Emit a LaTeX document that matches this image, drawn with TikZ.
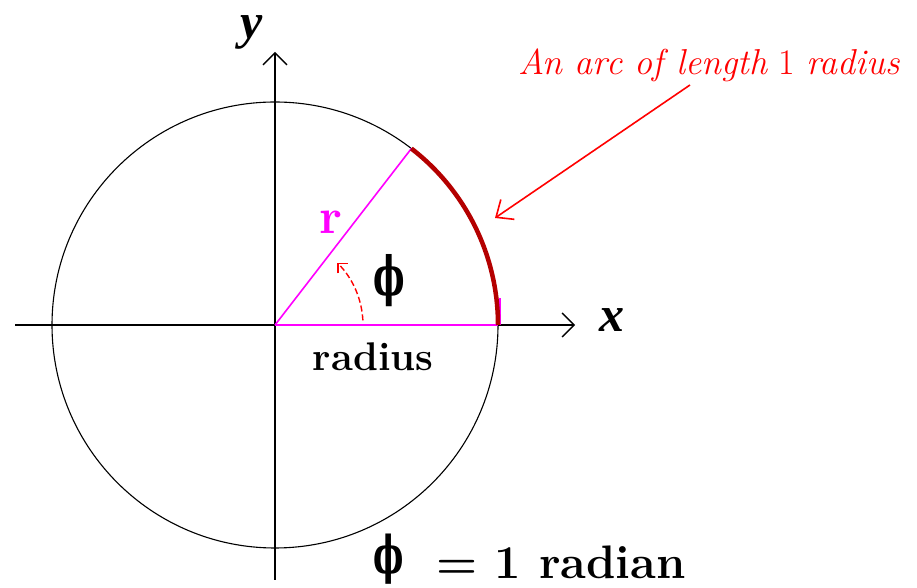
\documentclass[tikz,border=0pt]{standalone}
\usepackage{fontspec}
\newfontfamily\timesfont{Liberation Serif}
\newfontfamily\dvfont{DejaVu Serif}
\usetikzlibrary{arrows.meta}
\definecolor{arcred}{RGB}{180,0,0}
\definecolor{mag}{RGB}{255,0,255}
\tikzset{
  axis/.style={line width=1.6pt,-{Straight Barb[length=12pt,width=24pt,line width=1.4pt]}},
  pointer/.style={red,line width=1.6pt,-{Straight Barb[length=14pt,width=24pt,line width=1.6pt]}},
  lbl/.style={inner sep=0pt},
  philbl/.style={inner sep=0pt,xscale=0.62}
}
\begin{document}
\begin{tikzpicture}[x=1pt,y=1pt]
\useasboundingbox (0,0) rectangle (917,588);
\coordinate (C) at (275,263);
\coordinate (P) at ({275+223*cos(52.3)},{263+223*sin(52.3)});
\coordinate (Q) at (498,263);
\coordinate (xs) at (15,263);
\coordinate (xe) at (575,263);
\coordinate (ys) at (275,8);
\coordinate (ye) at (275,536);
% circle
\draw[line width=1.1pt] (C) circle (223);
% axes
\draw[axis] (xs) -- (xe);
\draw[axis] (ys) -- (ye);
% radius lines
\draw[mag,line width=1.6pt] (C) -- (P);
\draw[mag,line width=2.6pt] (C) -- (Q);
\draw[mag,line width=1.2pt] (500,263) -- (500,290);
% arc of length 1 radius
\draw[arcred,line width=4.5pt] (Q) arc (0:52.3:223);
% small angle arrow
\draw[red,line width=1.4pt,dash pattern=on 6pt off 3pt,-{Straight Barb[length=7pt,width=14pt,line width=1.4pt]}]
  ({275+88*cos(3)},{263+88*sin(3)}) arc (3:45:88);
% labels
\node[lbl] (ylab) at (252,556) {\fontsize{50}{50}\selectfont\timesfont\bfseries\itshape y};
\node[lbl] (xlab) at (612,268) {\fontsize{50}{50}\selectfont\timesfont\bfseries\itshape x};
\node[lbl,text=mag] (rlab) at (331,366) {\fontsize{50}{50}\selectfont\bfseries r};
\node[philbl] (phil) at (389,307) {\fontsize{54}{54}\selectfont\dvfont\bfseries ϕ};
\node[lbl] (radl) at (373,231) {\fontsize{40}{40}\selectfont\bfseries radius};
\node[lbl,text=red] (arcl) at (709,523) {\fontsize{36}{36}\selectfont\textit{An arc of length} 1 \textit{radius}};
\node[philbl] (eqphi) at (389,29) {\fontsize{52}{52}\selectfont\dvfont\bfseries ϕ};
\node[lbl,anchor=base west] (eq) at (436,9) {\fontsize{47}{47}\selectfont\textbf{= 1 radian}};
% pointer
\coordinate (pa) at (690,503);
\coordinate (pb) at (495,370);
\draw[pointer] (pa) -- (pb);
\end{tikzpicture}
\end{document}
